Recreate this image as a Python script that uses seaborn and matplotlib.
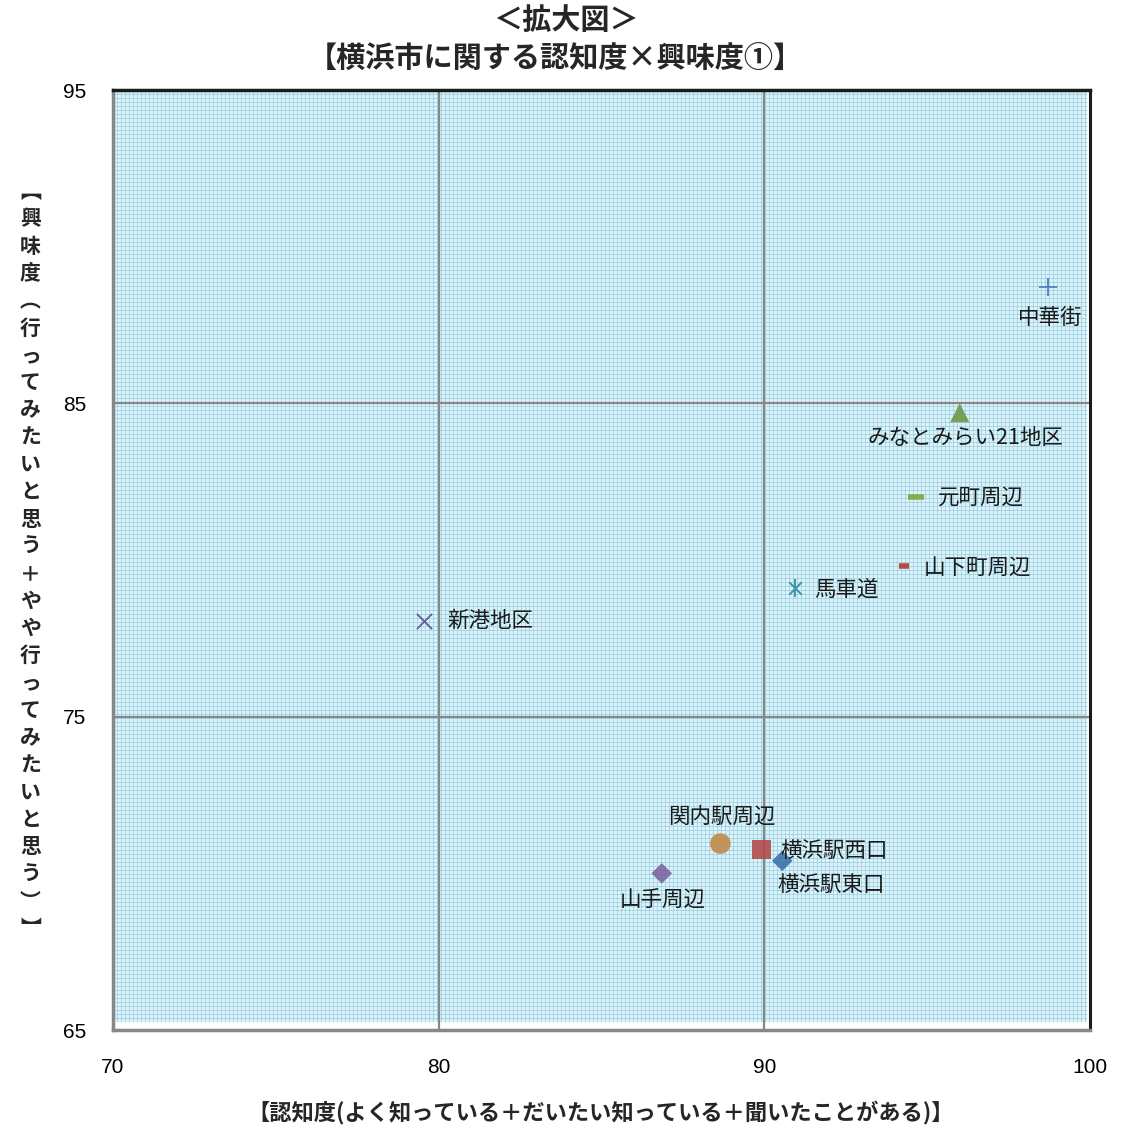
import numpy as np
import pandas as pd
import matplotlib
matplotlib.use("Agg")
import matplotlib.pyplot as plt
from matplotlib.colors import to_rgb
import seaborn as sns

# --- data -------------------------------------------------------------
areas = ["中華街", "みなとみらい21地区", "元町周辺", "山下町周辺", "馬車道",
         "新港地区", "関内駅周辺", "横浜駅西口", "横浜駅東口", "山手周辺"]
awareness = [98.7, 96.0, 94.65, 94.3, 90.95, 79.55, 88.65, 89.9, 90.55, 86.85]
interest = [88.7, 84.7, 82.0, 79.8, 79.1, 78.05, 70.95, 70.75, 70.4, 70.0]

x_ticks = [70, 80, 90, 100]
y_ticks = [65, 75, 85, 95]

df = pd.DataFrame({"area": areas, "x": awareness, "y": interest})

# marker style per area: (marker, colour, size, linewidth)
styles = {
    "中華街": ("+", "#4f81bd", 150, 1.3),
    "みなとみらい21地区": ("^", "#6f9648", 190, 0),
    "元町周辺": ("_", "#86ad50", 120, 4.0),
    "山下町周辺": ("_", "#b44c4c", 50, 4.0),
    "馬車道": ("x", "#3f93aa", 80, 1.4),
    "新港地区": ("x", "#6a5896", 120, 1.3),
    "関内駅周辺": ("o", "#c4894a", 220, 0),
    "横浜駅西口": ("s", "#b44c4c", 190, 0),
    "横浜駅東口": ("D", "#3f72ac", 110, 0),
    "山手周辺": ("D", "#8064a2", 110, 0),
}

# label offsets in points and alignment
labels = {
    "中華街": ((2, -22), "center"),
    "みなとみらい21地区": ((4, -18), "center"),
    "元町周辺": ((16, 0), "left"),
    "山下町周辺": ((14, -1), "left"),
    "馬車道": ((14, -1), "left"),
    "新港地区": ((17, 0), "left"),
    "関内駅周辺": ((1, 19), "center"),
    "横浜駅西口": ((14, -1), "left"),
    "横浜駅東口": ((35, -17), "center"),
    "山手周辺": ((1, -19), "center"),
}

# --- figure -----------------------------------------------------------
sns.set_style("white")
plt.rcParams["font.family"] = ["Noto Sans CJK JP", "DejaVu Sans"]

W, H = 1129, 1127
fig = plt.figure(figsize=(W / 100, H / 100), dpi=100)
ax = fig.add_axes([113 / W, 97 / H, 977 / W, 940 / H])

ax.set_xlim(70, 100)
ax.set_ylim(65, 95)

# fine woven texture for the plot area, one array cell per screen pixel
ph, pw = 940, 977
base = np.array(to_rgb("#dff2f8"))
line = np.array(to_rgb("#a3d7e7"))
dot = np.array(to_rgb("#ffffff"))
tex = np.tile(base, (ph, pw, 1))
rows = np.arange(ph)
cols = np.arange(pw)
tex[rows % 4 == 0, :, :] = line
tex[:, cols % 4 == 0, :] = line
tex[np.ix_(rows % 8 == 2, cols % 8 == 2)] = dot
tex[-8:, :, :] = 1.0
tex[:, -3:, :] = 1.0
ax.imshow(tex, extent=(70, 100, 65, 95), aspect="auto",
          interpolation="nearest", zorder=0, origin="upper")
ax.set_xlim(70, 100)
ax.set_ylim(65, 95)
ax.grid(False)

# main grid lines
for v in x_ticks[1:-1]:
    ax.axvline(v, color="#878787", linewidth=1.6, zorder=1)
for v in y_ticks[1:-1]:
    ax.axhline(v, color="#878787", linewidth=1.6, zorder=1)

ax.set_xticks(x_ticks)
ax.set_yticks(y_ticks)
ax.set_xticklabels([str(v) for v in x_ticks], fontfamily="Liberation Sans", fontsize=15)
ax.set_yticklabels([str(v) for v in y_ticks], fontfamily="Liberation Sans", fontsize=15)
ax.tick_params(which="major", direction="out", length=5, width=1.5,
               color="#878787", labelcolor="black")
ax.tick_params(axis="x", pad=15)
ax.tick_params(axis="y", pad=14)

for side, col, lw in [("left", "#878787", 2.5), ("bottom", "#878787", 2.5),
                      ("top", "#1a1a1a", 2.5), ("right", "#1a1a1a", 2.2)]:
    ax.spines[side].set_visible(True)
    ax.spines[side].set_color(col)
    ax.spines[side].set_linewidth(lw)

# --- points -----------------------------------------------------------
for _, row in df.iterrows():
    m, c, s, lw = styles[row["area"]]
    sub = df[df["area"] == row["area"]]
    if m in ("+", "x", "_"):
        sns.scatterplot(data=sub, x="x", y="y", marker=m, color=c, s=s,
                        linewidth=lw, ax=ax, legend=False, zorder=3)
    else:
        sns.scatterplot(data=sub, x="x", y="y", marker=m, color=c, s=s,
                        edgecolor="none", alpha=0.9, ax=ax, legend=False, zorder=3)
    if row["area"] == "馬車道":
        # asterisk: add the vertical stroke
        sns.scatterplot(data=sub, x="x", y="y", marker="|", color=c, s=150,
                        linewidth=1.4, ax=ax, legend=False, zorder=3)
    off, ha = labels[row["area"]]
    ax.annotate(row["area"], (row["x"], row["y"]), xytext=off,
                textcoords="offset points", ha=ha, va="center",
                fontsize=15.5, color="#1a1a1a", zorder=4)

ax.set_xlabel("")
ax.set_ylabel("")

# --- titles and axis labels ------------------------------------------
fig.text(0.501, 0.982, "＜拡大図＞", ha="center", va="center",
         fontsize=21, fontweight="bold")
fig.text(0.492, 0.949, "【横浜市に関する認知度×興味度①】", ha="center", va="center",
         fontsize=21, fontweight="bold")

fig.text(0.532, 0.0125,
         "【認知度(よく知っている＋だいたい知っている＋聞いたことがある)】",
         ha="center", va="center", fontsize=16, fontweight="bold")

ylab = "︻興味度︵行ってみたいと思う＋やや行ってみたいと思う︶︼"
fig.text(0.027, 0.503, "\n".join(ylab), ha="center", va="center",
         fontsize=15, fontweight="bold", linespacing=1.37)

fig.savefig("out.png", dpi=100)
